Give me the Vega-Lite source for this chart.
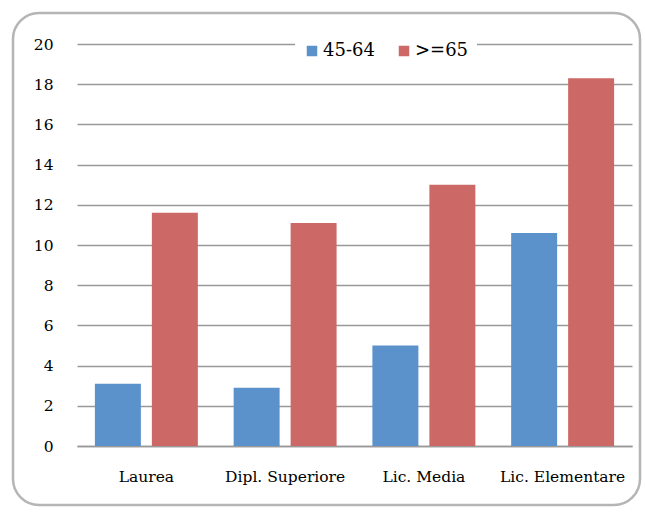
{
  "$schema": "https://vega.github.io/schema/vega-lite/v6.json",
  "width": 627,
  "height": 492,
  "autosize": {"type": "none"},
  "padding": {"left": 13, "top": 13, "right": 5, "bottom": 7},
  "background": "white",
  "data": {
    "values": [
      {"category": "Laurea", "group": "45-64", "value": 3.1},
      {"category": "Laurea", "group": ">=65", "value": 11.6},
      {"category": "Dipl. Superiore", "group": "45-64", "value": 2.9},
      {"category": "Dipl. Superiore", "group": ">=65", "value": 11.1},
      {"category": "Lic. Media", "group": "45-64", "value": 5.0},
      {"category": "Lic. Media", "group": ">=65", "value": 13.0},
      {"category": "Lic. Elementare", "group": "45-64", "value": 10.6},
      {"category": "Lic. Elementare", "group": ">=65", "value": 18.3}
    ]
  },
  "mark": {"type": "bar"},
  "encoding": {
    "x": {
      "field": "category",
      "type": "nominal",
      "sort": ["Laurea", "Dipl. Superiore", "Lic. Media", "Lic. Elementare"],
      "scale": {"range": [64, 619], "paddingInner": 0.258, "paddingOuter": 0.129},
      "axis": {
        "title": null,
        "labelAngle": 0,
        "ticks": false,
        "domain": true,
        "domainColor": "#999999",
        "domainWidth": 1.5,
        "offset": -59,
        "labelPadding": 23,
        "labelFont": "DejaVu Serif",
        "labelFontSize": 15.5,
        "labelColor": "#000000"
      }
    },
    "xOffset": {
      "field": "group",
      "type": "nominal",
      "sort": ["45-64", ">=65"],
      "scale": {"paddingInner": 0.193, "paddingOuter": 0}
    },
    "y": {
      "field": "value",
      "type": "quantitative",
      "scale": {"domain": [0, 20], "range": [433, 31], "nice": false},
      "axis": {
        "title": null,
        "values": [0, 2, 4, 6, 8, 10, 12, 14, 16, 18, 20],
        "ticks": false,
        "domain": false,
        "grid": true,
        "gridColor": "#999999",
        "gridWidth": 1.5,
        "offset": -64,
        "labelPadding": 24,
        "labelFont": "DejaVu Serif",
        "labelFontSize": 15.5,
        "labelColor": "#000000"
      }
    },
    "color": {
      "field": "group",
      "type": "nominal",
      "sort": ["45-64", ">=65"],
      "scale": {"domain": ["45-64", ">=65"], "range": ["#5B92CC", "#CC6967"]},
      "legend": {
        "title": null,
        "orient": "none",
        "direction": "horizontal",
        "legendX": 282,
        "legendY": 21,
        "fillColor": "white",
        "padding": 8,
        "symbolType": "square",
        "symbolSize": 110,
        "symbolStrokeWidth": 0,
        "symbolOpacity": 1,
        "labelFont": "DejaVu Serif",
        "labelFontSize": 18,
        "labelColor": "#000000",
        "columnPadding": 20,
        "labelOffset": 2
      }
    }
  },
  "config": {
    "view": {"stroke": "#b5b5b5", "strokeWidth": 2.5, "cornerRadius": 26}
  }
}
